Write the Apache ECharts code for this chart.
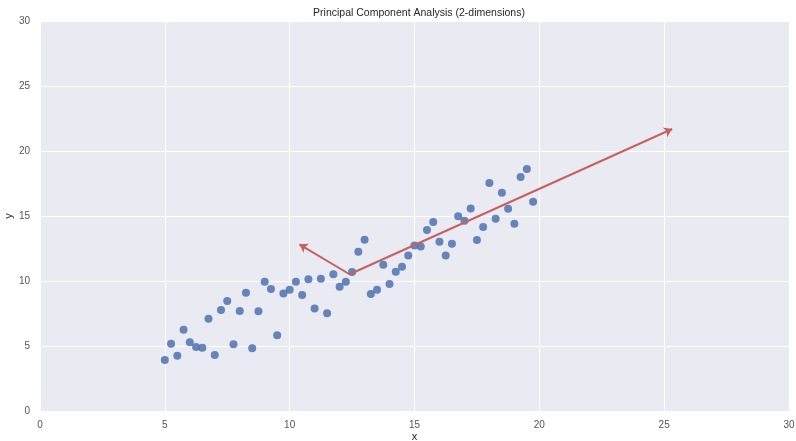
<!DOCTYPE html>
<html>
<head>
<meta charset="utf-8">
<script src="https://cdn.jsdelivr.net/npm/echarts@6/dist/echarts.min.js"></script>
<style>
  html, body { margin: 0; padding: 0; background: #fff; }
  #chart { width: 796px; height: 441px; }
</style>
</head>
<body>
<div id="chart"></div>
<script>
// sample points (x step 0.25)
var xValues = [5, 5.25, 5.5, 5.75, 6, 6.25, 6.5, 6.75, 7, 7.25, 7.5, 7.75, 8, 8.25, 8.5, 8.75, 9, 9.25, 9.5, 9.75,
  10, 10.25, 10.5, 10.75, 11, 11.25, 11.5, 11.75, 12, 12.25, 12.5, 12.75, 13, 13.25, 13.5, 13.75, 14, 14.25, 14.5, 14.75,
  15, 15.25, 15.5, 15.75, 16, 16.25, 16.5, 16.75, 17, 17.25, 17.5, 17.75, 18, 18.25, 18.5, 18.75, 19, 19.25, 19.5, 19.75];
var yValues = [3.92, 5.18, 4.25, 6.25, 5.28, 4.92, 4.87, 7.10, 4.31, 7.77, 8.46, 5.13, 7.69, 9.10, 4.82, 7.67, 9.95, 9.38, 5.82, 9.03,
  9.32, 9.95, 8.93, 10.13, 7.88, 10.18, 7.51, 10.51, 9.56, 9.95, 10.69, 12.25, 13.18, 9.00, 9.33, 11.25, 9.77, 10.72, 11.09, 11.97,
  12.73, 12.65, 13.92, 14.54, 13.02, 11.97, 12.86, 14.98, 14.64, 15.57, 13.16, 14.15, 17.54, 14.79, 16.79, 15.56, 14.41, 18.00, 18.62, 16.10];

// principal component arrows: start at the mean, end at the tips
var pcaOrigin = [12.4, 10.52];
var pcaTipsX = [25.32, 10.39];
var pcaTipsY = [21.69, 12.82];

var axisTicks = [0, 5, 10, 15, 20, 25, 30];

var points = xValues.map(function (x, i) { return [x, yValues[i]]; });
var arrows = pcaTipsX.map(function (tx, i) {
  return { coords: [pcaOrigin, [tx, pcaTipsY[i]]] };
});

var fontFam = "'Liberation Sans', Arial, sans-serif";

var chart = echarts.init(document.getElementById('chart'), null, { renderer: 'canvas' });

var axisCommon = {
  type: 'value',
  min: axisTicks[0],
  max: axisTicks[axisTicks.length - 1],
  interval: 5,
  nameLocation: 'middle',
  nameMoveOverlap: false,
  nameTextStyle: { color: '#262626', fontSize: 11, fontFamily: fontFam },
  axisLine: { show: false },
  axisTick: { show: false },
  axisLabel: { color: '#555', fontSize: 10, fontFamily: fontFam },
  splitLine: { show: true, lineStyle: { color: '#ffffff', width: 1 } }
};

var option = {
  animation: false,
  title: {
    text: 'Principal Component Analysis (2-dimensions)',
    left: 414,
    textAlign: 'center',
    top: 3,
    textStyle: { color: '#262626', fontSize: 10.5, fontWeight: 'normal', fontFamily: fontFam }
  },
  grid: {
    left: 40,
    right: 7,
    top: 21,
    bottom: 30,
    outerBoundsMode: 'none',
    containLabel: false,
    show: true,
    backgroundColor: '#EAEAF2',
    borderWidth: 0
  },
  xAxis: Object.assign({}, axisCommon, {
    name: 'x',
    nameGap: 20,
    axisLabel: Object.assign({}, axisCommon.axisLabel, { margin: 9 })
  }),
  yAxis: Object.assign({}, axisCommon, {
    name: 'y',
    nameGap: 26,
    axisLabel: Object.assign({}, axisCommon.axisLabel, { margin: 10 })
  }),
  series: [{
    type: 'scatter',
    data: points,
    symbolSize: 8,
    itemStyle: { color: '#4C72B0', opacity: 0.85 },
    z: 2
  }, {
    type: 'lines',
    coordinateSystem: 'cartesian2d',
    data: arrows,
    symbol: ['none', 'arrow'],
    symbolSize: 8,
    lineStyle: { color: '#C8615E', width: 2, opacity: 1 },
    z: 3
  }]
};

chart.setOption(option);
</script>
</body>
</html>
